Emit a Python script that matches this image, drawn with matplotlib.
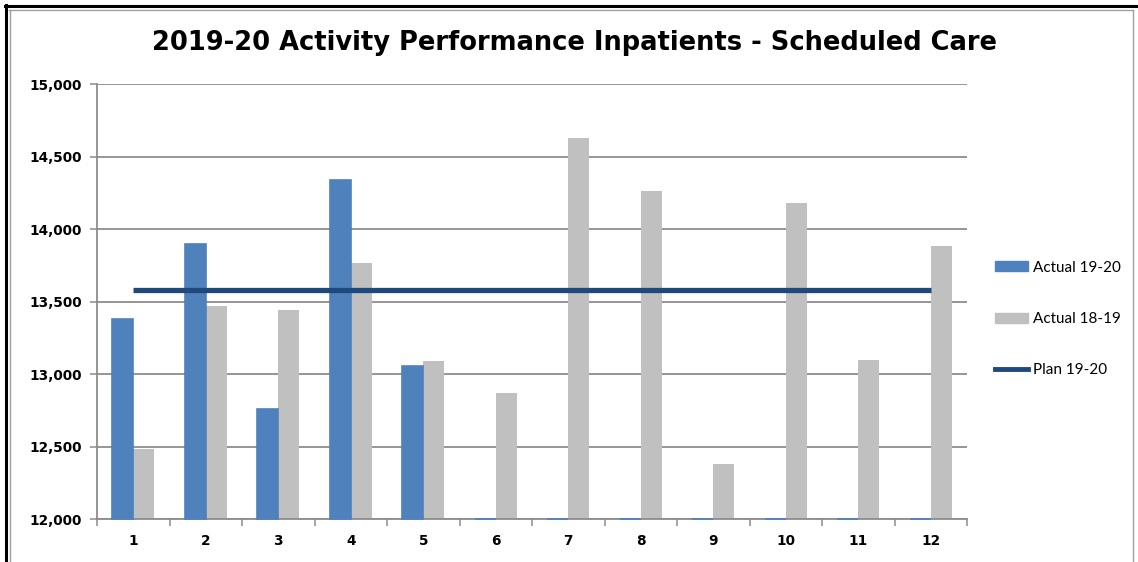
import numpy as np
import matplotlib
matplotlib.use("Agg")
import matplotlib.pyplot as plt
from matplotlib.lines import Line2D
from matplotlib.patches import Patch

# data
months = ["1", "2", "3", "4", "5", "6", "7", "8", "9", "10", "11", "12"]
actual_1920 = [13380, 13900, 12760, 14340, 13055, 0, 0, 0, 0, 0, 0, 0]
actual_1819 = [12480, 13470, 13440, 13765, 13090, 12870, 14630, 14260, 12380, 14180, 13095, 13885]
plan_1920 = [13580] * 12

y_min, y_max = 12000, 15000
blue = "#4F81BD"
grey = "#C0C0C0"
navy = "#1F497D"
grid_col = "#8C8C8C"

plt.rcParams['font.family'] = ['DejaVu Sans']

fig = plt.figure(figsize=(11.38, 5.62), dpi=100)
ax = fig.add_axes([97 / 1138, 1 - 519 / 562, 870 / 1138, 435 / 562])

x = np.arange(len(months))
w = 0.29
a = np.array(actual_1920, dtype=float)
ax.bar(x - w / 2, np.clip(a - y_min, 0, None), w, bottom=y_min, color=blue,
       edgecolor=blue, linewidth=1.2, zorder=6, clip_on=False, label="Actual 19-20")
ax.bar(x + w / 2, np.array(actual_1819) - y_min, w, bottom=y_min, color=grey,
       linewidth=0, zorder=3, label="Actual 18-19")
ax.plot(x, plan_1920, color=navy, lw=3.8, solid_capstyle="butt", zorder=7,
        label="Plan 19-20")

ax.set_xlim(-0.5, len(months) - 0.5)
ax.set_ylim(y_min, y_max)
ax.set_yticks(np.arange(y_min, y_max + 1, 500))
ax.set_yticklabels(["{:,}".format(v) for v in range(y_min, y_max + 1, 500)],
                   fontsize=9.8, fontweight="bold")
ax.set_xticks(x)
ax.set_xticklabels(months, fontsize=9.8, fontweight="bold")
ax.set_xticks(np.arange(-0.5, len(months)), minor=True)
ax.tick_params(axis="x", which="major", length=0, pad=11)
ax.tick_params(axis="x", which="minor", length=5, color=grid_col, width=1.1)
ax.tick_params(axis="y", length=5, color=grid_col, width=1.1, pad=6)
ax.grid(axis="y", color=grid_col, lw=1.3, zorder=0)
for s in ["top", "right"]:
    ax.spines[s].set_visible(False)
for s in ["left", "bottom"]:
    ax.spines[s].set_color(grid_col)
    ax.spines[s].set_linewidth(1.3)
    ax.spines[s].set_zorder(5)

fig.text(574 / 1138, 1 - 43 / 562, "2019-20 Activity Performance Inpatients - Scheduled Care",
         ha="center", va="center", fontsize=18.5, fontweight="bold")

handles = [Patch(color=blue), Patch(color=grey), Line2D([], [], color=navy, lw=3.5)]
fig.legend(handles, ["Actual 19-20", "Actual 18-19", "Plan 19-20"],
           loc="center left", bbox_to_anchor=(987 / 1138, 1 - 319 / 562),
           frameon=False, prop={"family": "Lato", "size": 11},
           labelspacing=2.45, handlelength=2.2, handleheight=0.65,
           handletextpad=0.3, borderpad=0)

# outer chart frame
fig.add_artist(Line2D([5 / 1138, 1], [1 - 6 / 562] * 2, color="black", lw=2.2))
fig.add_artist(Line2D([6 / 1138] * 2, [0, 1 - 5 / 562], color="black", lw=2.2))
fig.add_artist(Line2D([9 / 1138, 1133 / 1138], [1 - 10 / 562] * 2, color="#A0A0A0", lw=1))
fig.add_artist(Line2D([10 / 1138] * 2, [0, 1 - 10 / 562], color="#A0A0A0", lw=1))
fig.add_artist(Line2D([1133 / 1138] * 2, [0, 1 - 10 / 562], color="#A0A0A0", lw=1))

fig.savefig("out.png", dpi=100)
